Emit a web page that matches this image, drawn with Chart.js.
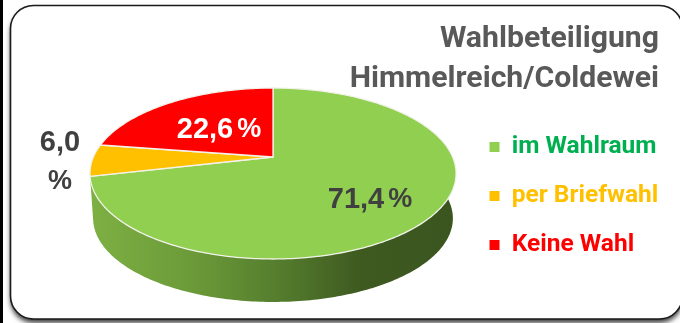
<!DOCTYPE html>
<html>
<head>
<meta charset="utf-8">
<style>html,body{margin:0;padding:0;background:#fff}canvas{display:block}</style>
<script src="https://cdn.jsdelivr.net/npm/chart.js@4"></script>
</head>
<body>
<div style="width:680px;height:323px"><canvas id="c" width="680" height="323"></canvas></div>
<script>
const categories = ['im Wahlraum', 'per Briefwahl', 'Keine Wahl'];
const values = [71.4, 6.0, 22.6];
const sliceColors = ['#90CF50', '#FFC000', '#FF0000'];
const legendTextColors = ['#00B050', '#FFC000', '#FF0000'];
const titleLines = ['Wahlbeteiligung', 'Himmelreich/Coldewei'];

// perspective projection of the pie disc
const top3D = {x:273, y:157, a:179.6, b:82.3, p:-0.193};
const bot3D = {x:273, y:202.2, a:176.5, b:80.5, p:-0.193};
function proj(g, ang){
  const u = Math.cos(ang), v = Math.sin(ang), w = 1 + g.p * v;
  return [g.x + g.a * u / w, g.y + g.b * v / w];
}
function traceRim(ctx, g, a0, a1, first){
  const n = Math.max(8, Math.ceil(Math.abs(a1 - a0) * 60));
  for (let i = 0; i <= n; i++){
    const p = proj(g, a0 + (a1 - a0) * i / n);
    if (i === 0 && first) ctx.moveTo(p[0], p[1]); else ctx.lineTo(p[0], p[1]);
  }
}
Chart.ArcElement.prototype.draw = function(ctx){
  ctx.save();
  ctx.beginPath();
  ctx.moveTo(top3D.x, top3D.y);
  traceRim(ctx, top3D, this.startAngle, this.endAngle, false);
  ctx.closePath();
  ctx.fillStyle = this.options.backgroundColor;
  ctx.fill();
  ctx.strokeStyle = this.options.borderColor;
  ctx.lineWidth = this.options.borderWidth;
  ctx.lineJoin = 'round';
  ctx.stroke();
  ctx.restore();
};

const framePlugin = {
  id: 'frame',
  beforeDraw(chart){
    const ctx = chart.ctx;
    ctx.save();
    ctx.fillStyle = '#fff';
    ctx.fillRect(0, 0, 680, 323);
    ctx.fillStyle = '#000';
    ctx.fillRect(0, 0, 3, 323);
    ctx.beginPath();
    ctx.roundRect(10.5, 5.5, 672, 313.5, 23);
    ctx.shadowColor = 'rgba(0,0,0,0.75)';
    ctx.shadowBlur = 5;
    ctx.shadowOffsetY = 4;
    ctx.fillStyle = '#fff';
    ctx.fill();
    ctx.shadowColor = 'transparent';
    ctx.strokeStyle = '#1a1a1a';
    ctx.lineWidth = 1.6;
    ctx.stroke();
    ctx.restore();
  }
};

const sidePlugin = {
  id: 'side',
  beforeDatasetsDraw(chart){
    const arc = chart.getDatasetMeta(0).data[0];
    const ctx = chart.ctx;
    const a0 = 0, a1 = arc.endAngle;
    ctx.save();
    const g = ctx.createLinearGradient(91, 0, 455, 0);
    g.addColorStop(0, '#7DB043');
    g.addColorStop(0.3, '#6A9838');
    g.addColorStop(0.5, '#567F2E');
    g.addColorStop(0.74, '#3E5A20');
    g.addColorStop(1, '#3B551F');
    ctx.beginPath();
    traceRim(ctx, top3D, a0 - 0.2, a1, true);
    traceRim(ctx, bot3D, a1, a0 - 0.2, false);
    ctx.closePath();
    ctx.fillStyle = g;
    ctx.fill();
    ctx.restore();
  }
};

const labelSpots = [[370, 200, '#404040'], [60, 143, '#404040'], [219, 130, '#FFFFFF']];
const labelPlugin = {
  id: 'valueLabels',
  afterDatasetsDraw(chart){
    const ctx = chart.ctx;
    const data = chart.data.datasets[0].data;
    const numFont = 'bold 29px "Liberation Sans"', pctFont = 'bold 27px "Liberation Sans"';
    ctx.save();
    ctx.textBaseline = 'middle';
    data.forEach((v, i) => {
      const s = v.toFixed(1).replace('.', ',');
      const [x, y, col] = labelSpots[i];
      ctx.fillStyle = col;
      if (i === 1){
        ctx.textAlign = 'center';
        ctx.font = numFont;
        ctx.fillText(s, x, y);
        ctx.font = pctFont;
        ctx.fillText('%', x, y + 39);
      } else {
        ctx.textAlign = 'left';
        ctx.font = numFont;
        const w1 = ctx.measureText(s).width;
        ctx.font = pctFont;
        const w2 = ctx.measureText('%').width;
        const gap = 4, start = x - (w1 + gap + w2) / 2;
        ctx.font = numFont;
        ctx.fillText(s, start, y);
        ctx.font = pctFont;
        ctx.fillText('%', start + w1 + gap, y);
      }
    });
    ctx.restore();
  }
};

const legendPlace = {
  id: 'legendPlace',
  afterLayout(chart){
    const l = chart.legend;
    l.left = 465;
    l.right = 680;
    l.top = 96;
    l.bottom = 296;
  }
};

new Chart(document.getElementById('c'), {
  type: 'pie',
  data: {
    labels: categories,
    datasets: [{data: values, backgroundColor: sliceColors, borderColor: '#F2F2EA', borderWidth: 1.3}]
  },
  plugins: [framePlugin, sidePlugin, labelPlugin, legendPlace],
  options: {
    responsive: false,
    animation: false,
    layout: {padding: {top: 19, right: 21, bottom: 30, left: 0}},
    plugins: {
      tooltip: {enabled: false},
      title: {
        display: true,
        text: titleLines,
        align: 'end',
        color: '#595959',
        padding: {top: 0, bottom: 0},
        font: {family: 'Roboto', weight: '700', size: 30.2, lineHeight: 1.325}
      },
      legend: {
        position: 'right',
        align: 'center',
        labels: {
          boxWidth: 10,
          boxHeight: 10,
          padding: 24.5,
          font: {family: 'Roboto', weight: '700', size: 24.5},
          generateLabels: () => categories.map((t, i) => ({
            text: t, fillStyle: sliceColors[i], strokeStyle: sliceColors[i],
            lineWidth: 0, fontColor: legendTextColors[i], index: i, hidden: false
          }))
        }
      }
    }
  }
});
</script>
</body>
</html>
